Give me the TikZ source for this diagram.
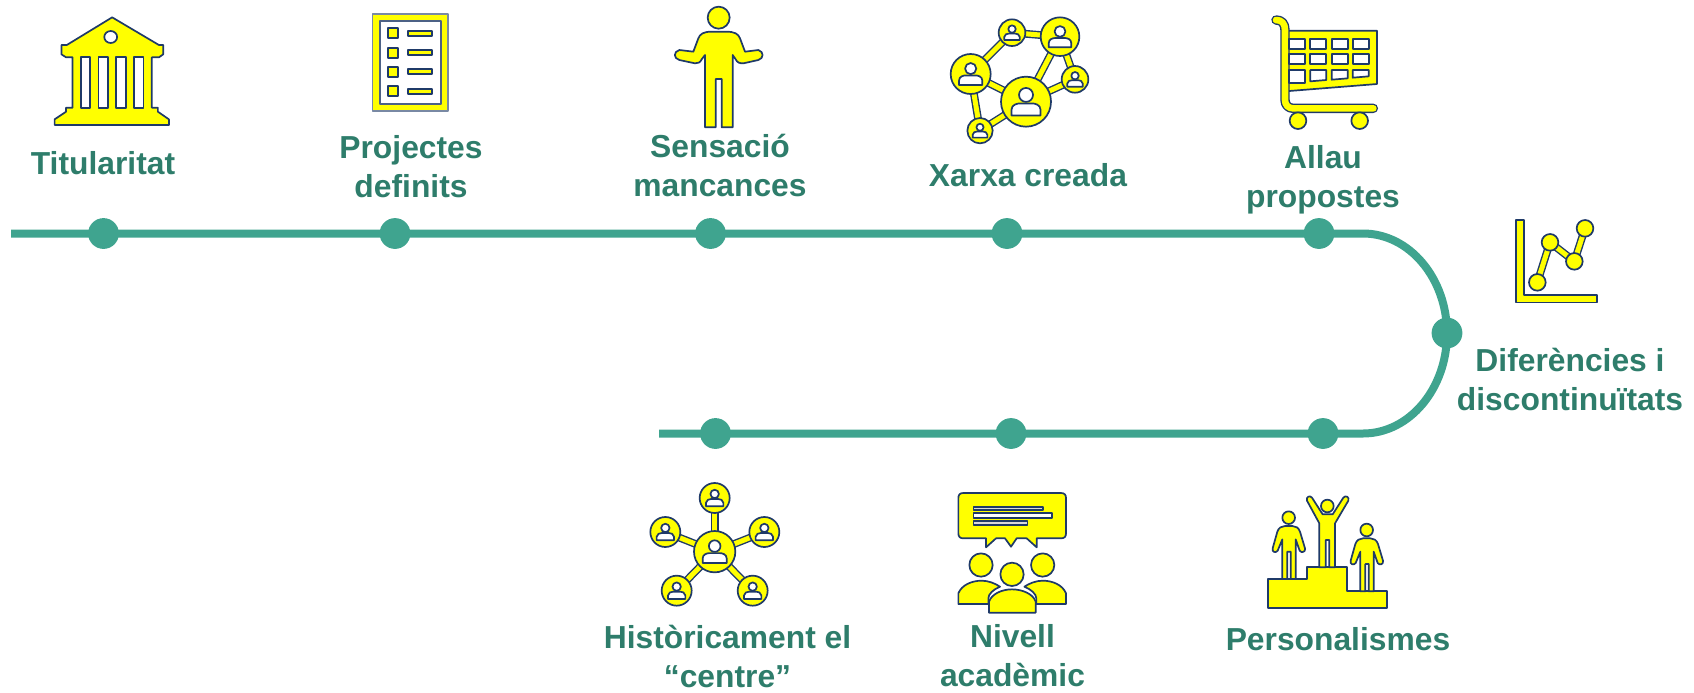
\documentclass[tikz,border=0pt]{standalone}
\usepackage{fontspec}
\setmainfont{Liberation Sans}
\definecolor{tl}{HTML}{3FA48F}
\definecolor{tx}{HTML}{2E7D6B}
\definecolor{yl}{HTML}{FFFF00}
\definecolor{ol}{HTML}{1F3A68}
\tikzset{
  tlline/.style={draw=tl,line width=4pt},
  dot/.style={circle,fill=tl,draw=none,minimum size=15.4pt,inner sep=0pt},
  lbl/.style={text=tx,font=\fontsize{15.9}{19.5}\selectfont\bfseries,align=center,inner sep=0pt},
  ic/.style={draw=ol,fill=yl,line width=.85pt,line join=round},
  wh/.style={draw=ol,fill=white,line width=.85pt,line join=round},
  lko/.style={draw=ol,line width=3.9pt},
  lky/.style={draw=yl,line width=2.5pt},
  zoomA/.style={x=0.17857pt,y=-0.16667pt},
  zoomB/.style={x=0.16667pt,y=-0.16667pt}
}
\newcommand{\perso}[3]{\begin{scope}[shift={(#1,#2)},scale=#3/100]
  \draw[wh] (0,-27) circle[radius=28];
  \draw[wh] (-58,55) -- (58,55) -- (58,32) .. controls (58,12) and (35,7) .. (25,7) -- (-25,7) .. controls (-35,7) and (-58,12) .. (-58,32) -- cycle;
\end{scope}}
\newcommand{\lnk}[2]{\draw[lko] #1 -- #2; \draw[lky] #1 -- #2;}
\begin{document}
\begin{tikzpicture}[x=0.5pt,y=-0.5pt]
\useasboundingbox (0,0) rectangle (1694,692);
% timeline
\coordinate (s1) at (11,233.5);
\coordinate (h1) at (1363,233.5);
\coordinate (h2) at (1363,433.5);
\coordinate (s2) at (659,433.5);
\draw[tlline] (s1) -- (h1) arc[start angle=-90,end angle=90,x radius=84,y radius=100] -- (s2);
\node[dot] (d1) at (103.5,233.5) {};
\node[dot] (d2) at (395,233.5) {};
\node[dot] (d3) at (710.5,233.5) {};
\node[dot] (d4) at (1007,233.5) {};
\node[dot] (d5) at (1319,233.5) {};
\node[dot] (d6) at (1447,333) {};
\node[dot] (d7) at (1323,433.5) {};
\node[dot] (d8) at (1011,433.5) {};
\node[dot] (d9) at (715.5,433.5) {};
% labels
\node[lbl] (t1) at (103,163) {Titularitat};
\node[lbl] (t2) at (411,167) {Projectes\\definits};
\node[lbl] (t3) at (720,165) {Sensació\\mancances};
\node[lbl] (t4) at (1028,175) {Xarxa creada};
\node[lbl] (t5) at (1323,179.5) {Allau\\propostes};
\node[lbl] (t6) at (1570,379.5) {Diferències i\\discontinuïtats};
\node[lbl] (t7) at (727.5,656) {Històricament el\\“centre”};
\node[lbl] (t8) at (1012.5,655.5) {Nivell\\acadèmic};
\node[lbl] (t9) at (1338,639.5) {Personalismes};
% building
\begin{scope}[zoomA]
\draw[ic] (314,52) -- (445,135) -- (457,135) -- (457,163) -- (445,172) -- (425,172) -- (425,323) -- (442,323) -- (442,335) -- (473,358) -- (473,375) -- (153,375) -- (153,358) -- (185,335) -- (185,323) -- (203,323) -- (203,172) -- (185,172) -- (172,163) -- (172,135) -- (187,135) -- cycle;
\foreach \a/\b in {226/252,276/302,325/352,376/402} \draw[wh] (\a,172) rectangle (\b,325);
\draw[wh] (310,111) circle[radius=18];
% checklist
\draw[ic,draw=ol!60] (1043,41) rectangle (1255,333);
\draw[wh,draw=ol!80] (1064,62) rectangle (1234,311);
\foreach \a/\b in {85/92,143/149,201/208,259/266}{
  \draw[ic] (1087,\a) rectangle (1115,\a+30);
  \draw[ic] (1142,\b) rectangle (1210,\b+15);
}
\end{scope}
% person and network
\begin{scope}[shift={(640,0)},zoomB]
\draw[ic] (236,53) circle[radius=33];
\draw[ic] (195,382) -- (195,165) -- (185,178) .. controls (180,188) and (175,190) .. (165,190) -- (118,180) .. controls (100,175) and (100,155) .. (118,150) -- (160,155) -- (175,115) .. controls (180,102) and (190,95) .. (215,95) -- (258,95) .. controls (285,95) and (295,102) .. (300,115) -- (315,155) -- (355,150) .. controls (372,155) and (372,175) .. (355,180) -- (310,190) .. controls (298,190) and (292,188) .. (287,178) -- (278,165) -- (278,382) -- (245,382) -- (245,237) -- (227,237) -- (227,382) -- cycle;
\lnk{(992,222)}{(1116,98)}
\lnk{(1116,98)}{(1260,110)}
\lnk{(1260,110)}{(1158,305)}
\lnk{(1260,110)}{(1305,238)}
\lnk{(1305,238)}{(1158,305)}
\lnk{(992,222)}{(1158,305)}
\lnk{(992,222)}{(1020,392)}
\lnk{(1020,392)}{(1158,305)}
\foreach \a/\b/\r in {992/222/60,1158/305/75,1260/110/58,1116/98/40,1305/238/40,1020/392/38}{
  \draw[ic] (\a,\b) circle[radius=\r];
  \perso{\a}{\b}{\r}
}
\end{scope}
% cart and chart
\begin{scope}[shift={(1240,0)},zoomB]
\draw[ic] (135,92) -- (411,92) -- (411,252) -- (135,274) -- cycle;
\draw[draw=ol,line width=4.7pt,line cap=round,line join=round] (108,60) .. controls (125,60) and (135,70) .. (135,90) -- (135,300) .. controls (135,315) and (145,325) .. (160,325) -- (400,325);
\draw[draw=yl,line width=3.3pt,line cap=round,line join=round] (108,60) .. controls (125,60) and (135,70) .. (135,90) -- (135,300) .. controls (135,315) and (145,325) .. (160,325) -- (400,325);
\foreach \a/\b in {148/196,211/259,275/323,338/386}{
  \draw[wh] (\a,117) rectangle (\b,147);
  \draw[wh] (\a,163) rectangle (\b,193);
}
\draw[wh] (148,210) rectangle (196,248);
\draw[wh] (211,210) -- (259,210) -- (259,240) -- (211,244) -- cycle;
\draw[wh] (275,210) -- (323,210) -- (323,235) -- (275,239) -- cycle;
\draw[wh] (338,210) -- (386,210) -- (386,229) -- (338,233) -- cycle;
\draw[ic] (174,362) circle[radius=25];
\draw[ic] (359,362) circle[radius=25];
\draw[ic] (828,660) -- (852,660) -- (852,884) -- (1070,884) -- (1070,907) -- (828,907) -- cycle;
\lnk{(892,847)}{(930,727)}
\lnk{(930,727)}{(1003,784)}
\lnk{(1003,784)}{(1035,685)}
\foreach \a/\b in {892/847,930/727,1003/784,1035/685} \draw[ic] (\a,\b) circle[radius=25];
\end{scope}
% hub and audience
\begin{scope}[shift={(620,470)},zoomB]
\foreach \a/\b in {284/84,136/186,433/186,170/362,398/362}{
  \lnk{(284,245)}{(\a,\b)}
}
\draw[ic] (284,245) circle[radius=62];
\perso{284}{245}{62}
\foreach \a/\b in {284/84,136/186,433/186,170/362,398/362}{
  \draw[ic] (\a,\b) circle[radius=45];
  \perso{\a}{\b}{45}
}
\draw[ic] (1030,69) -- (1323,69) .. controls (1333,69) and (1338,74) .. (1338,84) -- (1338,190) .. controls (1338,200) and (1333,205) .. (1323,205) -- (1250,205) -- (1250,232) -- (1220,205) -- (1190,205) -- (1173,230) -- (1155,205) -- (1128,205) -- (1098,232) -- (1098,205) -- (1030,205) .. controls (1020,205) and (1015,200) .. (1015,190) -- (1015,84) .. controls (1015,74) and (1020,69) .. (1030,69) -- cycle;
\draw[wh,fill=white!85!black] (1060,110) rectangle (1268,120);
\draw[wh] (1060,130) rectangle (1295,143);
\draw[wh,fill=white!85!black] (1060,154) rectangle (1222,165);
\draw[ic] (1083,285) circle[radius=35];
\draw[ic] (1268,285) circle[radius=35];
\draw[ic] (1176,313) circle[radius=35];
\draw[ic] (1015,402) -- (1015,370) .. controls (1025,345) and (1055,332) .. (1085,332) .. controls (1105,332) and (1125,340) .. (1140,350) .. controls (1120,358) and (1105,372) .. (1105,385) -- (1105,402) -- cycle;
\draw[ic] (1338,402) -- (1338,370) .. controls (1328,345) and (1298,332) .. (1268,332) .. controls (1248,332) and (1228,340) .. (1213,350) .. controls (1233,358) and (1249,372) .. (1249,385) -- (1249,402) -- cycle;
\draw[ic] (1107,428) -- (1107,395) .. controls (1115,372) and (1145,358) .. (1176,358) .. controls (1207,358) and (1240,372) .. (1247,395) -- (1247,428) -- cycle;
\end{scope}
% podium
\begin{scope}[shift={(1240,480)},zoomB]
\draw[ic] (85,297) -- (200,297) -- (200,262) -- (322,262) -- (322,333) -- (440,333) -- (440,385) -- (85,385) -- cycle;
\draw[ic] (262,78) circle[radius=19];
\draw[ic] (238,262) -- (238,130) -- (201,62) .. controls (197,50) and (210,45) .. (216,53) -- (248,103) -- (278,103) -- (310,53) .. controls (316,45) and (329,50) .. (325,62) -- (285,130) -- (285,262) -- (268,262) -- (268,180) -- (257,180) -- (257,262) -- cycle;
\foreach \dx/\dy in {0/0,234/37}{
\begin{scope}[shift={(\dx,\dy)}]
\draw[ic] (146,113) circle[radius=19];
\draw[ic] (127,297) -- (127,178) -- (113,212) .. controls (108,220) and (94,216) .. (98,205) -- (112,155) .. controls (116,143) and (125,138) .. (135,138) -- (157,138) .. controls (167,138) and (176,143) .. (180,155) -- (195,205) .. controls (198,216) and (184,220) .. (179,212) -- (167,178) -- (167,297) -- (152,297) -- (152,215) -- (142,215) -- (142,297) -- cycle;
\end{scope}}
\end{scope}
\end{tikzpicture}
\end{document}
